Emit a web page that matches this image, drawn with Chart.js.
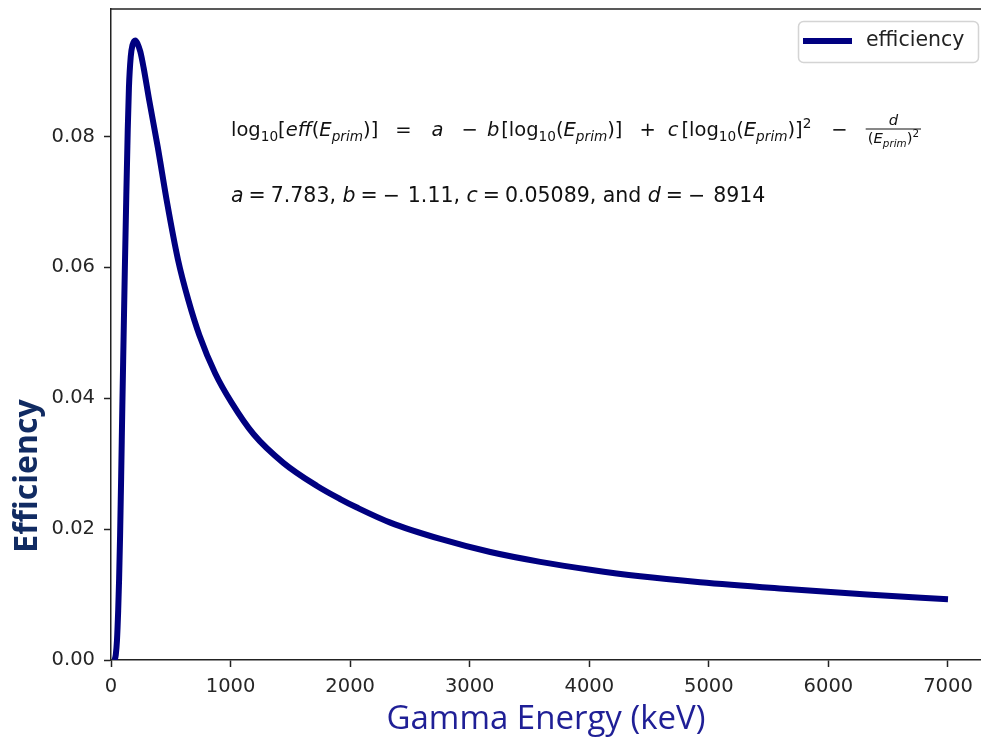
<!DOCTYPE html>
<html><head><meta charset="utf-8">
<script src="https://cdn.jsdelivr.net/npm/chart.js@4/dist/chart.umd.min.js"></script>
<style>html,body{margin:0;padding:0;background:#fff;}#wrap{width:981px;height:739px;position:relative;}canvas{display:block;}</style>
</head><body><div id="wrap"><canvas id="c" width="981" height="739"></canvas></div>
<script>
// ---- data ----
const energyKeV = [30, 40, 50, 60, 68, 76, 85, 95, 105, 116, 128, 140, 150, 165, 180, 203, 222, 245, 273, 320, 390, 470, 560, 647, 740, 872, 1010, 1193, 1444, 1723, 1917, 2057, 2336, 2754, 3172, 3590, 4008, 4426, 4927, 5624, 6322, 7000];
const efficiency = [0, 0.0008, 0.003, 0.0075, 0.0125, 0.019, 0.028, 0.039, 0.049, 0.06, 0.071, 0.081, 0.0875, 0.0922, 0.0940, 0.0947, 0.0942, 0.0930, 0.0905, 0.0855, 0.0785, 0.0698, 0.0612, 0.0550, 0.0496, 0.0438, 0.0393, 0.0345, 0.0301, 0.0266, 0.0246, 0.0233, 0.0210, 0.0185, 0.0165, 0.0150, 0.0138, 0.0128, 0.0119, 0.0109, 0.0100, 0.0093];
const seriesLabel = 'efficiency';
const xTitle = 'Gamma Energy (keV)';
const yTitle = 'Efficiency';
const xTickValues = [0, 1000, 2000, 3000, 4000, 5000, 6000, 7000];
const yTickValues = [0, 0.02, 0.04, 0.06, 0.08];
// equation runs: [text, italic, level(0 base, -1 sub, 1 sup), gapAfter(px)]
const eqLine1 = [['log',0,0],['10',0,-1],['[',0,0],['eff',1,0],['(',0,0],['E',1,0],['prim',1,-1],[')]',0,0,17],['=',0,0,20],['a',1,0,18],['\u2212',0,0,9],['b',1,0,2],['[log',0,0],['10',0,-1],['(',0,0],['E',1,0],['prim',1,-1],[')]',0,0,17],['+',0,0,12],['c',1,0,3],['[log',0,0],['10',0,-1],['(',0,0],['E',1,0],['prim',1,-1],[')]',0,0],['2',0,1,20],['\u2212',0,0,18]];
const eqFracNum = 'd';
const eqFracDen = [['(',0,0],['E',1,0],['prim',1,-1],[')',0,0],['2',0,1]];
const eqLine2 = [['a',1,0,5],['=',0,0,5],['7.783, ',0,0],['b',1,0,5],['=',0,0,5],['\u2212',0,0,8],['1.11, ',0,0],['c',1,0,5],['=',0,0,5],['0.05089, and ',0,0],['d',1,0,5],['=',0,0,5],['\u2212',0,0,8],['8914',0,0]];

const LINE_COLOR = '#000080';
const MFONT = '"DejaVu Sans", sans-serif';

function runFont(it, fs) { return (it ? 'italic ' : '') + fs + 'px ' + MFONT; }
function drawRuns(ctx, runs, x, y, size) {
  for (const [t, it, lv, gap] of runs) {
    const fs = lv === 0 ? size : size * 0.7;
    const dy = lv === -1 ? size * 0.24 : (lv === 1 ? -size * 0.42 : 0);
    ctx.font = runFont(it, fs);
    ctx.fillText(t, x, y + dy);
    x += ctx.measureText(t).width + (gap || 0);
  }
  return x;
}
function runsWidth(ctx, runs, size) {
  let w = 0;
  for (const [t, it, lv, gap] of runs) {
    const fs = lv === 0 ? size : size * 0.7;
    ctx.font = runFont(it, fs);
    w += ctx.measureText(t).width + (gap || 0);
  }
  return w;
}

const decor = {
  id: 'decor',
  afterDraw(chart) {
    const ctx = chart.ctx, a = chart.chartArea;
    ctx.save();
    // top spine
    ctx.strokeStyle = '#222'; ctx.lineWidth = 1.5;
    ctx.beginPath(); ctx.moveTo(a.left - 0.75, a.top); ctx.lineTo(a.right + 2, a.top); ctx.stroke();
    // legend
    const ds = chart.data.datasets[0];
    const lx = 798.5, ly = 21.5, lw = 180, lh = 41, r = 5;
    ctx.beginPath();
    ctx.roundRect(lx, ly, lw, lh, r);
    ctx.fillStyle = 'rgba(255,255,255,0.85)'; ctx.fill();
    ctx.strokeStyle = '#d4d4d4'; ctx.lineWidth = 1.5; ctx.stroke();
    ctx.strokeStyle = ds.borderColor; ctx.lineWidth = ds.borderWidth; ctx.lineCap = 'butt';
    ctx.beginPath(); ctx.moveTo(803, 41); ctx.lineTo(852, 41); ctx.stroke();
    ctx.fillStyle = '#222'; ctx.font = '20.5px ' + MFONT; ctx.textBaseline = 'middle'; ctx.textAlign = 'left';
    ctx.fillText(ds.label, 866, 41);
    // equation
    ctx.textBaseline = 'alphabetic'; ctx.fillStyle = '#111';
    const S = 19.5;
    let x = drawRuns(ctx, eqLine1, 231, 136, S);
    const denW = runsWidth(ctx, eqFracDen, S * 0.76);
    ctx.font = runFont(1, S * 0.76);
    const numW = ctx.measureText(eqFracNum).width;
    const fw = Math.max(denW, numW) + 4;
    const barY = 129;
    ctx.fillText(eqFracNum, x + (fw - numW) / 2, barY - 4);
    ctx.strokeStyle = '#111'; ctx.lineWidth = 1;
    ctx.beginPath(); ctx.moveTo(x, barY); ctx.lineTo(x + fw, barY); ctx.stroke();
    drawRuns(ctx, eqFracDen, x + (fw - denW) / 2, barY + 14, S * 0.76);
    drawRuns(ctx, eqLine2, 231, 202, 20.5);
    // y title
    ctx.save();
    ctx.translate(28, 476); ctx.rotate(-Math.PI / 2);
    ctx.font = 'bold 32px "Open Sans", sans-serif'; ctx.fillStyle = '#112b62';
    ctx.textAlign = 'center'; ctx.textBaseline = 'middle';
    ctx.fillText(yTitle, 0, 0);
    ctx.restore();
    ctx.restore();
  }
};

const tickFont = { family: 'DejaVu Sans', size: 19.5 };
new Chart(document.getElementById('c'), {
  type: 'scatter',
  data: {
    datasets: [{
      label: seriesLabel,
      data: energyKeV.map((e, i) => ({ x: e, y: efficiency[i] })),
      showLine: true,
      borderColor: LINE_COLOR,
      backgroundColor: LINE_COLOR,
      borderWidth: 6,
      pointRadius: 0,
      cubicInterpolationMode: 'monotone',
      fill: false
    }]
  },
  options: {
    responsive: false,
    animation: false,
    devicePixelRatio: 1,
    layout: { padding: { left: 0, right: 0, top: 9, bottom: 0 } },
    plugins: { legend: { display: false }, tooltip: { enabled: false } },
    scales: {
      x: {
        type: 'linear', min: 0, max: 7276,
        afterBuildTicks: s => { s.ticks = xTickValues.map(v => ({ value: v })); },
        afterFit: s => { s.height = 79; s.paddingLeft = 0; s.paddingRight = 0; },
        ticks: { font: tickFont, color: '#262626', padding: 8, maxRotation: 0, callback: v => String(v) },
        grid: { drawOnChartArea: false, drawTicks: true, tickLength: 7, tickColor: '#222', tickWidth: 1.5 },
        border: { display: true, color: '#222', width: 1.5 },
        title: { display: true, text: xTitle, color: '#1f1f96', font: { family: 'Open Sans', size: 33, lineHeight: 1.2 }, padding: { top: 0, bottom: 0 } }
      },
      y: {
        type: 'linear', min: 0, max: 0.0995,
        afterBuildTicks: s => { s.ticks = yTickValues.map(v => ({ value: v })); },
        afterFit: s => { s.width = 111; s.paddingTop = 0; s.paddingBottom = 0; },
        ticks: { font: tickFont, color: '#262626', padding: 9, callback: v => Number(v).toFixed(2) },
        grid: { drawOnChartArea: false, drawTicks: true, tickLength: 7, tickColor: '#222', tickWidth: 1.5 },
        border: { display: true, color: '#222', width: 1.5 }
      }
    }
  },
  plugins: [decor]
});
</script></body></html>
